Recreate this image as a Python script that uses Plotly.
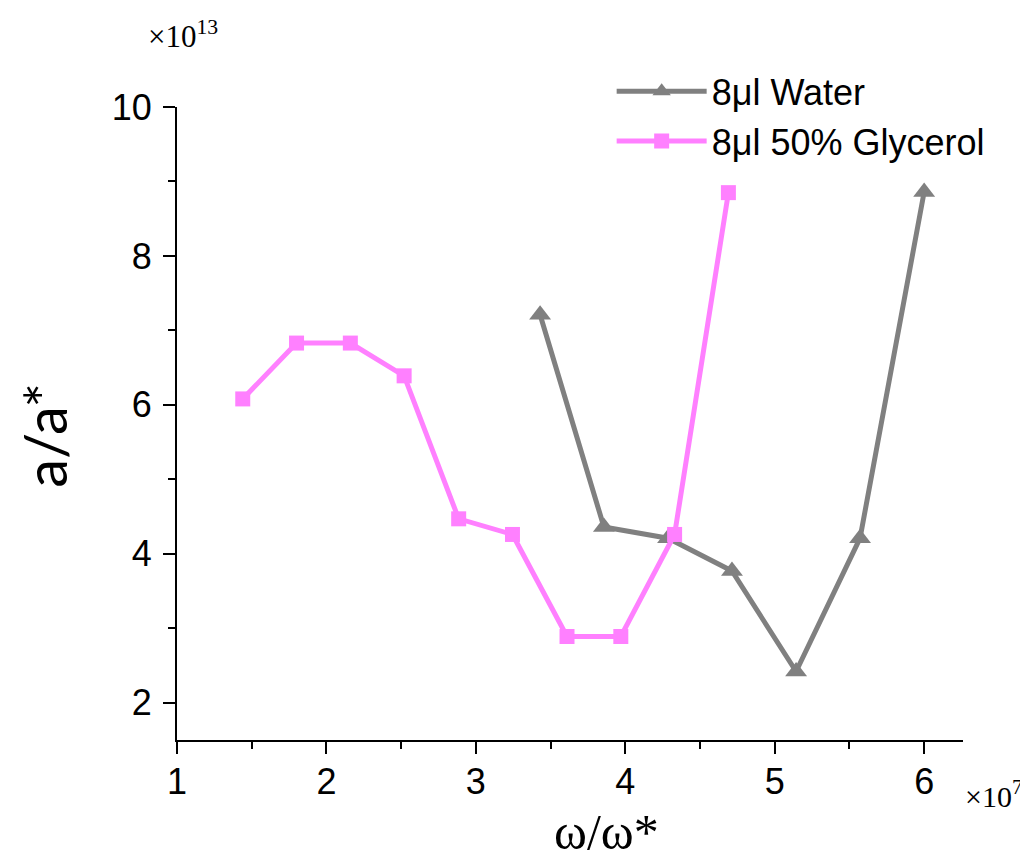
import plotly.graph_objects as go

# omega/omega* in units of 1e7, a/a* in units of 1e13
water_x = [3.43, 3.857, 4.286, 4.714, 5.143, 5.571, 6.0]
water_y = [7.21, 4.36, 4.21, 3.77, 2.42, 4.21, 8.86]

glyc_x = [1.44, 1.80, 2.16, 2.52, 2.885, 3.245, 3.61, 3.97, 4.33, 4.69]
glyc_y = [6.08, 6.83, 6.83, 6.39, 4.47, 4.26, 2.89, 2.89, 4.26, 8.85]

gray = "#808080"
pink = "#FF80FF"

fig = go.Figure()
fig.add_trace(go.Scatter(x=water_x, y=water_y, mode="lines+markers", name="8\u03bcl Water",
                         line=dict(color=gray, width=5),
                         marker=dict(symbol="triangle-up", size=19, color=gray)))
fig.add_trace(go.Scatter(x=glyc_x, y=glyc_y, mode="lines+markers", name="8\u03bcl 50% Glycerol",
                         line=dict(color=pink, width=5),
                         marker=dict(symbol="square", size=15, color=pink)))

axis_common = dict(showline=True, linecolor="black", linewidth=2, showgrid=False, zeroline=False,
                   ticks="outside", ticklen=12, tickwidth=2, tickcolor="black",
                   tickfont=dict(family="Liberation Sans", size=36, color="black"))

fig.update_xaxes(range=[1, 6.26], tickvals=[1, 2, 3, 4, 5, 6], ticklabelstandoff=-3,
                 minor=dict(tickvals=[1.5, 2.5, 3.5, 4.5, 5.5], ticklen=7, tickwidth=2,
                            tickcolor="black", ticks="outside"),
                 **axis_common)
fig.update_yaxes(range=[1.5, 10], tickvals=[2, 4, 6, 8, 10], ticklabelstandoff=4,
                 minor=dict(tickvals=[3, 5, 7, 9], ticklen=7, tickwidth=2,
                            tickcolor="black", ticks="outside"),
                 **axis_common)

fig.add_annotation(text="a/a*", xref="paper", yref="paper", x=-0.168, y=0.482, textangle=-90,
                   xanchor="center", yanchor="middle", showarrow=False,
                   font=dict(family="Lato", size=58, color="black"))
fig.add_annotation(text="\u03c9/\u03c9*", xref="paper", yref="paper", x=0.546, y=-0.146,
                   xanchor="center", yanchor="middle", showarrow=False,
                   font=dict(family="Liberation Serif", size=50, color="black"))
fig.add_annotation(text="\u00d710<sup>13</sup>", xref="paper", yref="paper", x=-0.04, y=1.115,
                   xanchor="left", yanchor="middle", showarrow=False,
                   font=dict(family="Liberation Serif", size=31, color="black"))
fig.add_annotation(text="\u00d710<sup>7</sup>", xref="paper", yref="paper", x=1.0, y=-0.085,
                   xanchor="left", yanchor="middle", showarrow=False,
                   font=dict(family="Liberation Serif", size=30, color="black"))

fig.update_layout(width=1028, height=858, plot_bgcolor="white", paper_bgcolor="white",
                  margin=dict(l=169, r=73, t=99, b=126),
                  legend=dict(x=0.553, y=1.072, xanchor="left", yanchor="top",
                              font=dict(family="Liberation Sans", size=36, color="black"),
                              bgcolor="rgba(0,0,0,0)", itemwidth=90, tracegroupgap=0))

fig.write_html("out.html")
